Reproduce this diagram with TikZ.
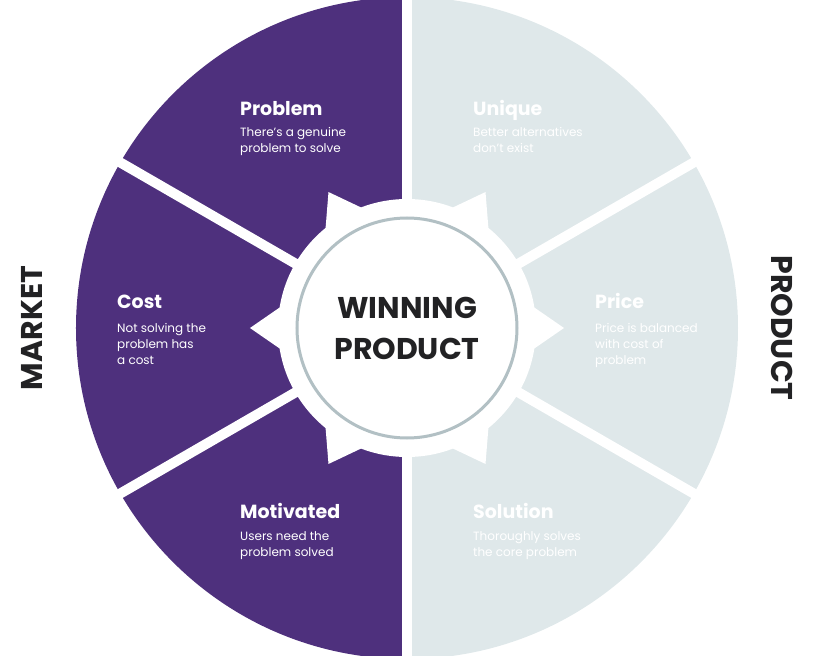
\documentclass[tikz,border=0pt]{standalone}
\usepackage{fontspec}
\setmainfont{Poppins}
\usepackage{xcolor}
\usetikzlibrary{positioning}
\definecolor{marketpurple}{RGB}{78,48,125}
\definecolor{productgray}{RGB}{223,232,234}
\definecolor{ringgray}{RGB}{178,192,196}
\definecolor{centertext}{RGB}{34,34,36}

\begin{document}
\begin{tikzpicture}[
        x=1pt, y=1pt,
        title/.style={anchor=base west, inner sep=0pt, text=white, font=\fontsize{19}{22}\selectfont\bfseries},
        body/.style={anchor=base west, inner sep=0pt, text=white, align=left, font=\fontsize{12}{16}\selectfont},
        side/.style={inner sep=0pt, text=centertext, font=\fontsize{30}{41}\selectfont\bfseries},
        gap/.style={white, line width=10pt}
    ]
        \useasboundingbox (-407,-328) rectangle (407,328);
        \clip (-407,-328) rectangle (407,328);
        \fill[marketpurple] (0,331) arc[start angle=90, end angle=270, radius=331] -- cycle;
        \fill[productgray] (0,331) arc[start angle=90, end angle=-90, radius=331] -- cycle;
        \foreach \a in {30,150,210,330}
            \draw[gap] (0,0) -- (\a:345);
        \draw[gap] (0,345) -- (0,-345);
        % gear round the centre
        \fill[white] (0,0) circle[radius=129];
        \foreach \a in {0,60,...,300}
            \fill[white] (\a-10:127) -- (\a:157) -- (\a+10:127) -- cycle;
        \draw[ringgray, line width=3pt] (0,0) circle[radius=110];
        \node[side, align=center] (winning) at (0,0) {WINNING\\PRODUCT};
        \node[side, rotate=90] (market) at (-375,0) {MARKET};
        \node[side, rotate=-90] (product) at (375,0) {PRODUCT};
        % body nodes sit on the baseline of their last line
        \node[title] (problem) at (-167,212) {Problem};
        \node[body] (problembody) at ([yshift=-37]problem.base west) {There's a genuine\\problem to solve};
        \node[title] (cost) at (-290,20) {Cost};
        \node[body] (costbody) at ([yshift=-56]cost.base west) {Not solving the\\problem has\\a cost};
        \node[title] (motivated) at (-167,-190) {Motivated};
        \node[body] (motivatedbody) at ([yshift=-38]motivated.base west) {Users need the\\problem solved};
        \node[title] (unique) at (66,212) {Unique};
        \node[body] (uniquebody) at ([yshift=-37]unique.base west) {Better alternatives\\don't exist};
        \node[title] (price) at (188,20) {Price};
        \node[body] (pricebody) at ([yshift=-56]price.base west) {Price is balanced\\with cost of\\problem};
        \node[title] (solution) at (66,-190) {Solution};
        \node[body] (solutionbody) at ([yshift=-38]solution.base west) {Thoroughly solves\\the core problem};
    \end{tikzpicture}
\end{document}
